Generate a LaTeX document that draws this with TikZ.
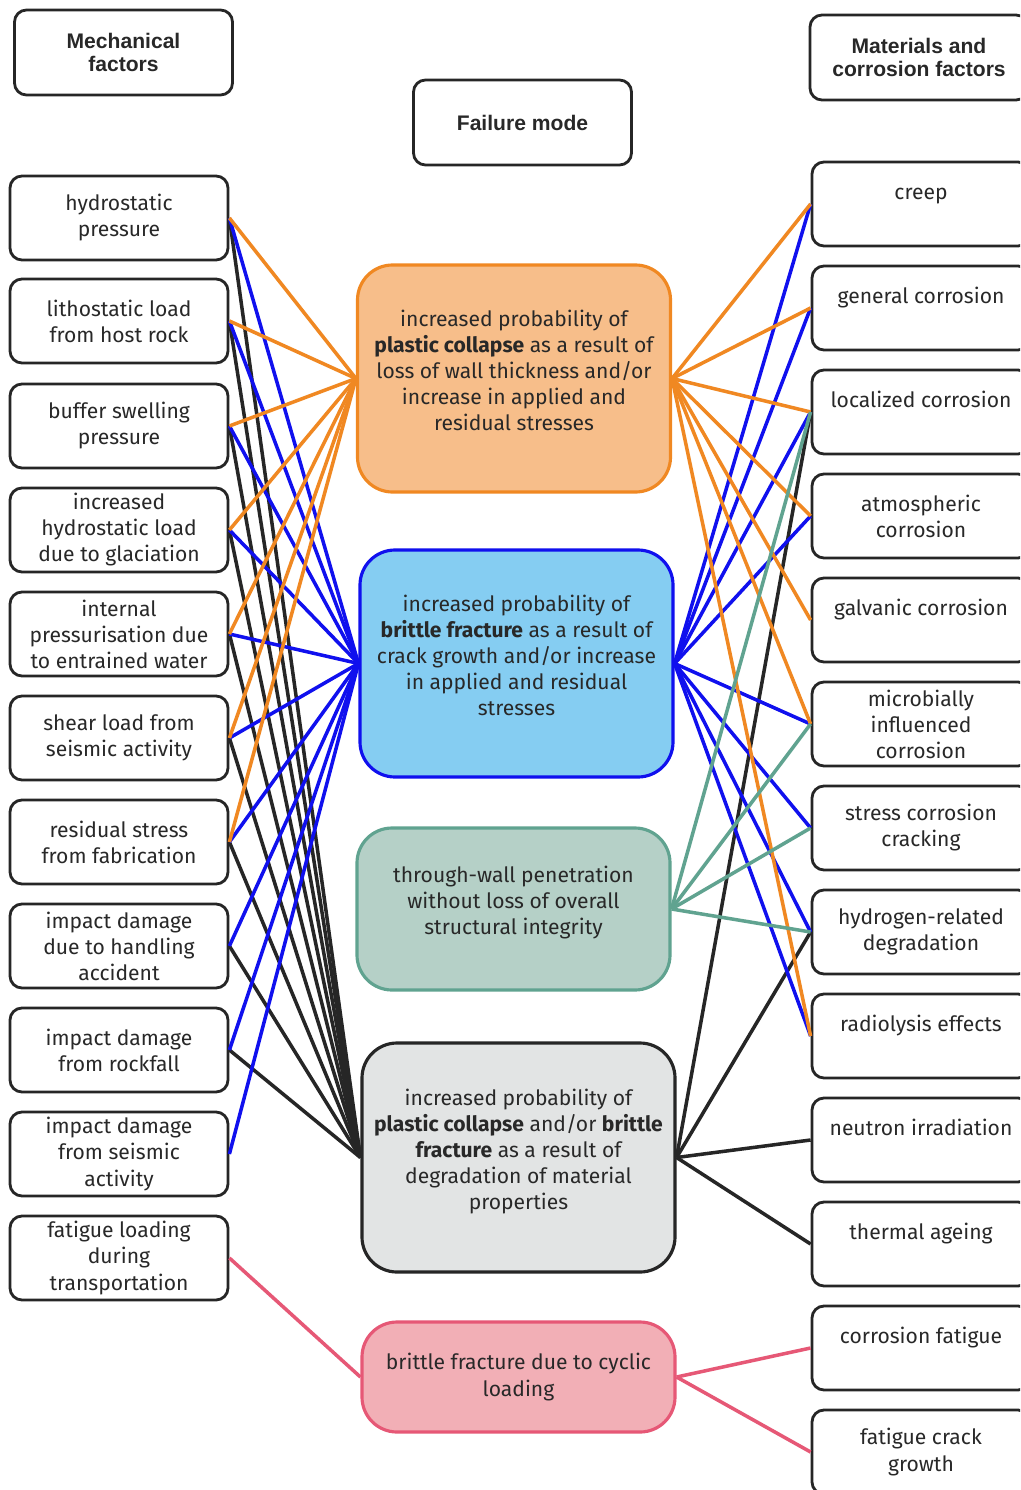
\documentclass[tikz,border=0pt]{standalone}
\usepackage{fontspec}
\setmainfont{Fira Sans}
\newfontfamily\headfont{Liberation Sans}
\usepackage{xcolor}
\usetikzlibrary{positioning}
\definecolor{boxline}{RGB}{38,38,38}
\definecolor{txtc}{RGB}{40,40,40}
\definecolor{plasticline}{RGB}{240,136,34}
\definecolor{plasticfill}{RGB}{247,190,138}
\definecolor{brittleline}{RGB}{16,16,238}
\definecolor{brittlefill}{RGB}{133,205,242}
\definecolor{leakline}{RGB}{96,163,144}
\definecolor{leakfill}{RGB}{181,208,199}
\definecolor{degrfill}{RGB}{226,228,228}
\definecolor{cyclicline}{RGB}{230,88,118}
\definecolor{cyclicfill}{RGB}{242,175,182}
\newcommand{\upline}[1]{\raisebox{2.5pt}[0pt][0pt]{#1}}
\newcommand{\lift}{\\[-5pt]\mbox{}}

\begin{document}
\begin{tikzpicture}[x=0.2mm,y=-0.2mm,font=\fontsize{12}{14.8}\selectfont,
  factor/.style={draw=boxline,line width=1.6pt,rounded corners=2.4mm,
    minimum width=43.6mm,minimum height=16.8mm,inner sep=0pt,align=center,text=txtc},
  head/.style={factor,minimum height=17mm,
    font=\headfont\bfseries\fontsize{12}{13.6}\selectfont},
  mode/.style={line width=1.8pt,rounded corners=7mm,minimum width=62.6mm,
    inner sep=0pt,align=center,text=txtc},
  link/.style={line width=2pt}]
  \useasboundingbox (0,0) rectangle (1020,1490);
  \clip (0,0) rectangle (1020,1490);
  \fill[white] (0,0) rectangle (1020,1490);
  % ---- headings ----
  \node[head] (mech) at (123.5,52.5) {Mechanical\\factors};
  \node[head] (fmode) at (522.5,122.5) {Failure mode};
  \node[head] (matc) at (919,57.5) {Materials and\\corrosion factors};
  % ---- LEFT: mechanical factors ----
  \foreach \i/\y/\txt in {1/218/{hydrostatic\\pressure},
      2/321/{lithostatic load\\from host rock},
      3/426/{buffer swelling\\pressure},
      4/530/{increased\\hydrostatic load\\due to glaciation},
      5/634/{internal\\pressurisation due\\to entrained water},
      6/738/{shear load from\\seismic activity},
      7/842/{residual stress\\from fabrication},
      8/946/{impact damage\\due to handling\\accident},
      9/1050/{impact damage\\from rockfall},
      10/1154/{impact damage\\from seismic\\activity},
      11/1258/{fatigue loading\\during\\transportation}}{
    \node[factor] (m\i) at (119,\y) {\txt};}
  % ---- RIGHT: materials and corrosion factors ----
  \foreach \i/\y/\txt in {1/204/{\upline{creep}},
      2/308/{\upline{general corrosion}},
      3/412/{\upline{localized corrosion}},
      4/516/{atmospheric\\corrosion},
      5/620/{\upline{galvanic corrosion}},
      6/724/{microbially\\influenced\\corrosion},
      7/828/{stress corrosion\\cracking},
      8/932/{hydrogen-related\\degradation},
      9/1036/{\upline{radiolysis effects}},
      10/1140/{\upline{neutron irradiation}},
      11/1244/{\upline{thermal ageing}},
      12/1348/{\upline{corrosion fatigue}},
      13/1452/{fatigue crack\\growth}}{
    \node[factor] (c\i) at (921,\y) {\txt};}
  % ---- CENTRE: failure modes ----
  \node[mode,draw=plasticline,fill=plasticfill,minimum height=45.4mm] (plastic) at (514,378.5)
    {increased probability of\\\textbf{plastic collapse} as a result of\\loss of wall thickness and/or\\increase in applied and\\residual stresses\lift};
  \node[mode,draw=brittleline,fill=brittlefill,minimum height=45.4mm] (brittle) at (516.5,663.5)
    {increased probability of\\\textbf{brittle fracture} as a result of\\crack growth and/or increase\\in applied and residual\\stresses\lift};
  \node[mode,draw=leakline,fill=leakfill,minimum height=32.4mm] (leak) at (513.5,909)
    {through-wall penetration\\without loss of overall\\structural integrity\lift};
  \node[mode,draw=boxline,fill=degrfill,minimum height=45.8mm] (degr) at (518.5,1157.5)
    {increased probability of\\\textbf{plastic collapse} and/or \textbf{brittle}\\\textbf{fracture} as a result of\\degradation of material\\properties\lift};
  \node[mode,draw=cyclicline,fill=cyclicfill,minimum height=22mm] (cyclic) at (518.5,1377)
    {brittle fracture due to cyclic\\loading};
  % ---- links, left side ----
  \foreach \i in {1,...,9}{\draw[link,boxline] (m\i.east) -- (degr.west);}
  \foreach \i in {1,...,10}{\draw[link,brittleline] (m\i.east) -- (brittle.west);}
  \foreach \i in {1,...,7}{\draw[link,plasticline] (m\i.east) -- (plastic.west);}
  \draw[link,cyclicline] (m11.east) -- (cyclic.west);
  % ---- links, right side ----
  \foreach \j in {3,8,10,11}{\draw[link,boxline] (degr.east) -- (c\j.west);}
  \foreach \j in {1,2,3,4,6,7,8,9}{\draw[link,brittleline] (brittle.east) -- (c\j.west);}
  \foreach \j in {1,2,3,4,5,6,9}{\draw[link,plasticline] (plastic.east) -- (c\j.west);}
  \foreach \j in {3,6,7,8}{\draw[link,leakline] (leak.east) -- (c\j.west);}
  \foreach \j in {12,13}{\draw[link,cyclicline] (cyclic.east) -- (c\j.west);}
\end{tikzpicture}
\end{document}
